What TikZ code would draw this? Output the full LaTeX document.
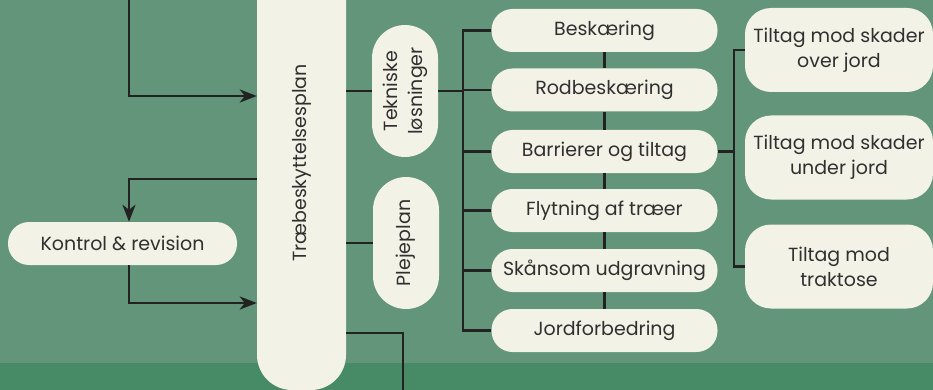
\documentclass[tikz,border=0pt]{standalone}
\usepackage{fontspec}
\setmainfont{Poppins}
\usetikzlibrary{arrows.meta,calc}
\definecolor{bg}{HTML}{63957A}
\definecolor{band}{HTML}{468A66}
\definecolor{cream}{HTML}{F2F2E7}
\definecolor{ink}{HTML}{222222}
\definecolor{txt}{HTML}{303030}
\begin{document}
\begin{tikzpicture}[x=1pt,y=-1pt,
  ln/.style={draw=ink,line width=2.7pt},
  arr/.style={ln,-{Stealth[length=17pt,width=13pt,inset=5pt]}},
  base/.style={fill=cream,inner sep=0pt,text=txt,font=\fontsize{19}{25}\selectfont,align=center},
  box/.style={base,rounded corners=21pt,minimum width=226pt,minimum height=43pt},
  rbox/.style={base,rounded corners=26pt,minimum width=188pt,minimum height=84pt},
  vbox/.style={base,rounded corners=33pt,minimum width=66pt,minimum height=132pt}]
\useasboundingbox (0,0) rectangle (933,390);
\clip (0,0) rectangle (933,390);
\fill[bg] (0,0) rectangle (933,390);
\fill[band] (0,363) rectangle (933,390);

\node[base,rounded corners=35pt,minimum width=89pt,minimum height=454pt] (main) at (301.5,163) {\rotatebox{90}{Træbeskyttelsesplan}};
\node[box,minimum width=229pt] (kon) at (122.5,243.5) {Kontrol \& revision};
\node[vbox] (tek) at (405,91) {\rotatebox{90}{\begin{tabular}{@{}c@{}}Tekniske\\løsninger\end{tabular}}};
\node[vbox] (ple) at (406,243) {\rotatebox{90}{Plejeplan}};

\node[box] (bes) at (604.5,30.5) {Beskæring};
\node[box] (rod) at (604.5,90) {Rodbeskæring};
\node[box] (bar) at (604.5,151.5) {Barrierer og tiltag};
\node[box] (fly) at (604.5,210.5) {Flytning af træer};
\node[box] (ska) at (604.5,270.5) {Skånsom udgravning};
\node[box] (jor) at (604.5,330.5) {Jordforbedring};

\node[rbox] (ov) at (839,50) {Tiltag mod skader\\over jord};
\node[rbox] (un) at (839,157.5) {Tiltag mod skader\\under jord};
\node[rbox] (tra) at (839,266.5) {Tiltag mod\\traktose};

\coordinate (top) at (129,-5);
\coordinate (ya) at (0,96);
\coordinate (yb) at (0,179);
\coordinate (yc) at (0,303);
\coordinate (yd) at (0,333);
\coordinate (xk) at (129,0);
\coordinate (endb) at (403,395);
\coordinate (bx) at (463,0);
\coordinate (rx) at (734,0);

\draw[arr] (top) |- (main.west |- ya);
\draw[arr] (main.west |- yb) -| (kon.north -| xk);
\draw[arr] (kon.south -| xk) |- (main.west |- yc);
\draw[ln] (main.east |- yd) -| (endb);
\draw[ln] (main.east |- tek.west) -- (tek.west);
\draw[ln] (main.east |- ple.west) -- (ple.west);
\draw[ln] (tek.east) -- (tek.east -| bx);
\draw[ln] (bes.west) -| (jor.west -| bx) -- (jor.west);
\foreach \n in {rod,bar,fly,ska} \draw[ln] (\n.west) -- (\n.west -| bx);
\draw[ln] (bes.south) -- (rod.north);
\draw[ln] (rod.south) -- (bar.north);
\draw[ln] (bar.south) -- (fly.north);
\draw[ln] (fly.south) -- (ska.north);
\draw[ln] (ska.south) -- (jor.north);
\draw[ln] (bar.east) -- (bar.east -| rx);
\draw[ln] (ov.west) -| (tra.west -| rx) -- (tra.west);
\end{tikzpicture}
\end{document}
